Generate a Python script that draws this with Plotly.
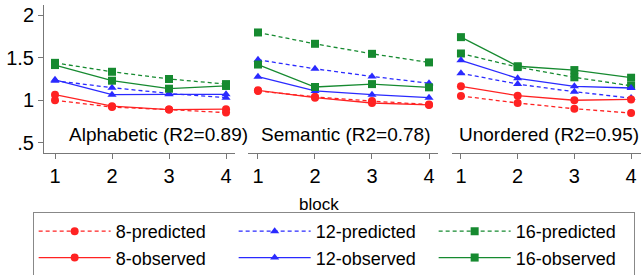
import plotly.graph_objects as go

blocks = [1, 2, 3, 4]
tick_vals_y = [0.5, 1, 1.5, 2]
tick_text_y = [".5", "1", "1.5", "2"]

panels = ["Alphabetic (R2=0.89)", "Semantic (R2=0.78)", "Unordered (R2=0.95)"]

alpha_pred_8 = [1.00, 0.92, 0.89, 0.855]
alpha_obs_8 = [1.066, 0.93, 0.89, 0.895]
alpha_pred_12 = [1.23, 1.148, 1.08, 1.03]
alpha_obs_12 = [1.24, 1.066, 1.07, 1.07]
alpha_pred_16 = [1.44, 1.335, 1.25, 1.19]
alpha_obs_16 = [1.414, 1.23, 1.136, 1.168]

sem_pred_8 = [1.11, 1.04, 0.99, 0.95]
sem_obs_8 = [1.117, 1.03, 0.968, 0.945]
sem_pred_12 = [1.476, 1.37, 1.28, 1.20]
sem_obs_12 = [1.277, 1.11, 1.066, 1.03]
sem_pred_16 = [1.797, 1.664, 1.546, 1.445]
sem_obs_16 = [1.42, 1.156, 1.19, 1.152]

unord_pred_8 = [1.05, 0.968, 0.90, 0.85]
unord_obs_8 = [1.164, 1.054, 1.0, 1.01]
unord_pred_12 = [1.317, 1.19, 1.10, 1.026]
unord_obs_12 = [1.47, 1.258, 1.164, 1.144]
unord_pred_16 = [1.55, 1.39, 1.27, 1.17]
unord_obs_16 = [1.742, 1.40, 1.355, 1.265]

series_names = ["8-predicted", "12-predicted", "16-predicted",
                "8-observed", "12-observed", "16-observed"]
panel_data = [
    [alpha_pred_8, alpha_pred_12, alpha_pred_16, alpha_obs_8, alpha_obs_12, alpha_obs_16],
    [sem_pred_8, sem_pred_12, sem_pred_16, sem_obs_8, sem_obs_12, sem_obs_16],
    [unord_pred_8, unord_pred_12, unord_pred_16, unord_obs_8, unord_obs_12, unord_obs_16],
]

RED = "#ff2222"
BLUE = "#2a2aff"
GREEN = "#168a30"
colors = [RED, BLUE, GREEN, RED, BLUE, GREEN]
symbols = ["circle", "triangle-up", "square", "circle", "triangle-up", "square"]
dashes = ["4px,3px", "4px,3px", "4px,3px", "solid", "solid", "solid"]

FONT = "Liberation Sans"
AXC = "#777777"

fig = go.Figure()
xaxes = ["x", "x2", "x3"]
for p, data in enumerate(panel_data):
    for i, vals in enumerate(data):
        fig.add_trace(go.Scatter(
            x=blocks, y=vals, mode="lines+markers",
            name=series_names[i], showlegend=(p == 0),
            line=dict(color=colors[i], width=1.3, dash=dashes[i]),
            marker=dict(color=colors[i], symbol=symbols[i], size=8),
            xaxis=xaxes[p], yaxis="y",
        ))

domains = [[0.0, 0.32], [0.3417, 0.66], [0.6834, 1.0]]
ranges = [[0.807, 4.158], [0.825, 4.158], [0.842, 4.175]]
ann_x = [2.82, 2.55, 2.55]

axis_common = dict(
    tickvals=blocks, ticktext=["1", "2", "3", "4"],
    showline=True, linecolor=AXC, linewidth=1,
    ticks="outside", ticklen=5, tickcolor=AXC,
    showgrid=False, zeroline=False,
    tickfont=dict(family=FONT, size=20, color="black"),
    anchor="y",
)
layout = dict(
    width=641, height=275,
    margin=dict(l=44, r=0, t=5, b=122, autoexpand=False),
    paper_bgcolor="white", plot_bgcolor="white",
    font=dict(family=FONT, color="black"),
    yaxis=dict(
        range=[0.38, 2.12], tickvals=tick_vals_y, ticktext=tick_text_y,
        showline=True, linecolor=AXC, linewidth=1,
        ticks="outside", ticklen=5, tickcolor=AXC,
        showgrid=False, zeroline=False,
        tickfont=dict(family=FONT, size=20, color="black"),
    ),
    legend=dict(
        orientation="h", x=-0.019, xanchor="left", y=-0.3985, yanchor="top",
        bordercolor="#888888", borderwidth=1,
        font=dict(family=FONT, size=18, color="black"),
        itemwidth=72, entrywidth=113, traceorder="normal",
    ),
)
for k, ax in enumerate(["xaxis", "xaxis2", "xaxis3"]):
    layout[ax] = dict(axis_common, domain=domains[k], range=ranges[k])
fig.update_layout(**layout)

for p, txt in enumerate(panels):
    fig.add_annotation(
        x=ann_x[p], y=0.603, xref=xaxes[p], yref="y", text=txt,
        showarrow=False, font=dict(family=FONT, size=19, color="black"),
        xanchor="center", yanchor="middle",
    )
fig.add_annotation(
    x=0.4606, y=-0.345, xref="paper", yref="paper", text="block",
    showarrow=False, font=dict(family=FONT, size=17, color="black"),
    xanchor="center", yanchor="middle",
)

fig.write_html(
    "out.html",
    config={"displayModeBar": False},
    post_script="document.body.style.margin='0';document.body.style.overflow='hidden';",
)
